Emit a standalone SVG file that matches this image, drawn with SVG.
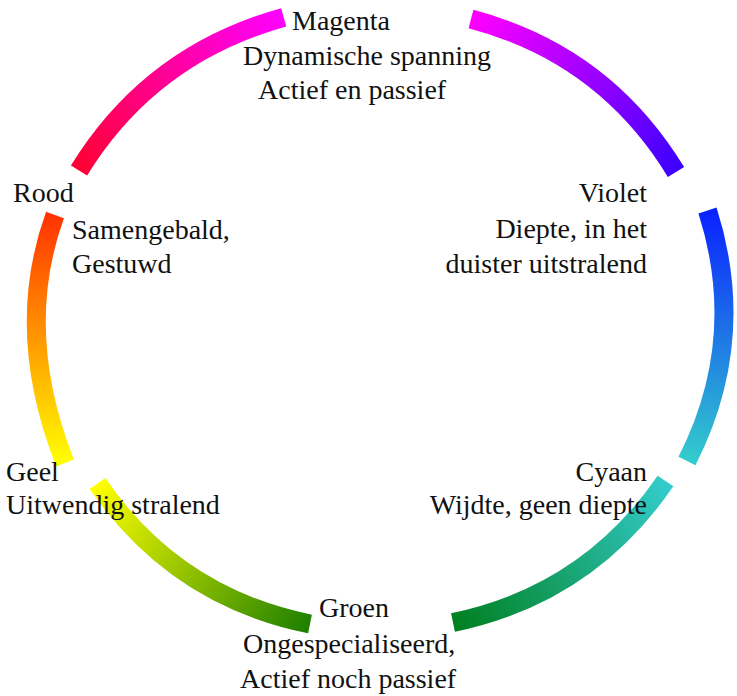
<svg xmlns="http://www.w3.org/2000/svg" width="737" height="696" viewBox="0 0 737 696">
<style>
.arc{fill:none;stroke-width:19;stroke-linecap:butt}
text{font-family:"Liberation Serif","Times New Roman",serif;font-size:28px;fill:#111}
.r{text-anchor:end}
</style>
<defs>
<linearGradient id="g1" gradientUnits="userSpaceOnUse" x1="79" y1="170.5" x2="283.7" y2="17.3"><stop offset="0" stop-color="#ff0033"/><stop offset="1" stop-color="#ff00ff"/></linearGradient>
<linearGradient id="g2" gradientUnits="userSpaceOnUse" x1="471" y1="19" x2="676" y2="172"><stop offset="0" stop-color="#ff00ff"/><stop offset="1" stop-color="#3c00ff"/></linearGradient>
<linearGradient id="g3" gradientUnits="userSpaceOnUse" x1="707.5" y1="210.5" x2="687" y2="461"><stop offset="0" stop-color="#0a22ff"/><stop offset="1" stop-color="#33cccc"/></linearGradient>
<linearGradient id="g4" gradientUnits="userSpaceOnUse" x1="665.5" y1="481" x2="453" y2="622.5"><stop offset="0" stop-color="#33cccc"/><stop offset="1" stop-color="#008020"/></linearGradient>
<linearGradient id="g5" gradientUnits="userSpaceOnUse" x1="97.5" y1="483.5" x2="310" y2="624"><stop offset="0" stop-color="#ffff00"/><stop offset="1" stop-color="#1f8000"/></linearGradient>
<linearGradient id="g6" gradientUnits="userSpaceOnUse" x1="55" y1="215" x2="65" y2="463"><stop offset="0" stop-color="#ff3300"/><stop offset="1" stop-color="#ffff00"/></linearGradient>
</defs>
<g id="connectors">
<path class="arc" stroke="url(#g1)" d="M79,170.5 Q150.6,54.1 283.7,17.3"/>
<path class="arc" stroke="url(#g2)" d="M471,19 Q604.3,54.1 676,172"/>
<path class="arc" stroke="url(#g3)" d="M707.5,210.5 Q748.7,339.9 687,461"/>
<path class="arc" stroke="url(#g4)" d="M665.5,481 Q587.7,594.6 453,622.5"/>
<path class="arc" stroke="url(#g5)" d="M97.5,483.5 Q175.3,596.8 310,624"/>
<path class="arc" stroke="url(#g6)" d="M55,215 Q13,331 65,463"/>
</g>
<g id="magenta"><text x="292" y="30">Magenta</text><text x="243" y="65">Dynamische spanning</text><text x="258" y="99">Actief en passief</text></g>
<g id="rood"><text x="13" y="202">Rood</text><text x="72" y="239">Samengebald,</text><text x="72" y="273">Gestuwd</text></g>
<g id="violet"><text class="r" x="647" y="202">Violet</text><text class="r" x="647" y="238">Diepte, in het</text><text class="r" x="647" y="273">duister uitstralend</text></g>
<g id="cyaan"><text class="r" x="647" y="481">Cyaan</text><text class="r" x="647" y="514">Wijdte, geen diepte</text></g>
<g id="geel"><text x="6" y="481">Geel</text><text x="6" y="514">Uitwendig stralend</text></g>
<g id="groen"><text x="319" y="617">Groen</text><text x="243" y="653">Ongespecialiseerd,</text><text x="240" y="688">Actief noch passief</text></g>
</svg>
